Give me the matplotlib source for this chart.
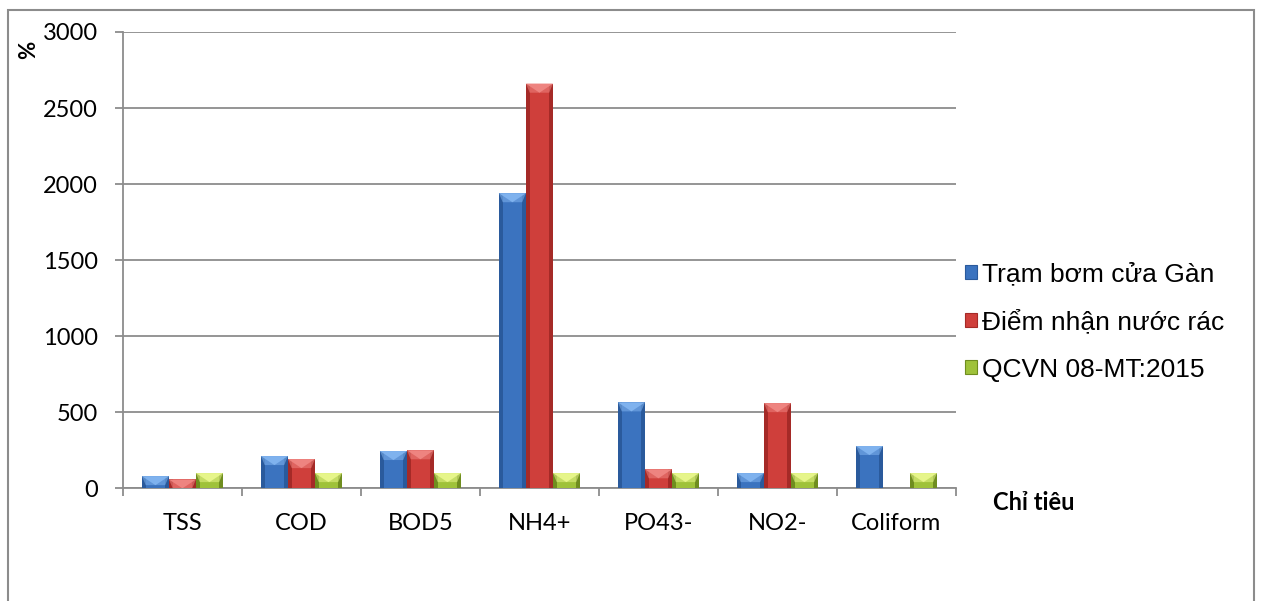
import numpy as np
import matplotlib.pyplot as plt
from matplotlib.patches import Rectangle, Polygon

# chỉ tiêu và giá trị (%)
categories = ['TSS', 'COD', 'BOD5', 'NH4+', 'PO43-', 'NO2-', 'Coliform']
tram_bom = [80, 212, 245, 1940, 565, 100, 278]
diem_nhan = [58, 192, 250, 2660, 125, 560, 0]
qcvn = [100, 100, 100, 100, 100, 100, 100]
series_names = ['Trạm bơm cửa Gàn', 'Điểm nhận nước rác', 'QCVN 08-MT:2015']

# màu: (đậm viền, thân, vát trên)
colors = [('#2a5a9c', '#3b73bf', '#7fb2ee'),
          ('#a52a27', '#cf3f3b', '#ee8480'),
          ('#6f8d1f', '#9fc23a', '#e6f58a')]

fig = plt.figure(figsize=(12.61, 6.01), dpi=100)
ax = fig.add_axes([0.0975, 0.1875, 0.6606, 0.7593])

ymax = 3000
bevel = ymax * 9 / 456.0
w = 0.227
x = np.arange(len(categories))

handles = []
for k, vals in enumerate([tram_bom, diem_nhan, qcvn]):
    dark, mid, light = colors[k]
    xs = x + (k - 1) * w
    ax.bar(xs, vals, width=w, color=dark, zorder=3, linewidth=0)
    ax.bar(xs, vals, width=w * 0.72, color=mid, zorder=4, linewidth=0)
    for xi, v in zip(xs, vals):
        if v <= 0:
            continue
        h = min(bevel, v)
        ax.add_patch(Polygon([(xi - w / 2, v), (xi + w / 2, v), (xi + w * 0.36, v - h),
                              (xi - w * 0.36, v - h)], closed=True, color=light,
                             alpha=0.55, zorder=5, linewidth=0))
        ax.add_patch(Polygon([(xi - w / 2, v), (xi + w / 2, v), (xi, v - h)],
                             closed=True, color=light, zorder=6, linewidth=0))
    handles.append(Rectangle((0, 0), 1, 1, facecolor=mid, edgecolor=dark, linewidth=0.8))

ax.set_xlim(-0.5, len(categories) - 0.5)
ax.set_ylim(0, ymax)
ax.set_yticks(np.arange(0, 3001, 500))
ax.yaxis.grid(True, color='#8c8c8c', linewidth=1.3, zorder=0)
ax.set_axisbelow(True)

ax.set_xticks(np.arange(-0.5, len(categories)), minor=False)
ax.set_xticklabels([])
ax.set_xticks(x, minor=True)
ax.set_xticklabels(categories, minor=True)
ax.tick_params(axis='x', which='major', length=6, width=1.3, color='#8c8c8c', direction='out')
ax.tick_params(axis='x', which='minor', length=0, pad=18, labelsize=17)
ax.tick_params(axis='y', length=6, width=1.3, color='#8c8c8c', pad=12, labelsize=17)
for lab in ax.get_xticklabels(minor=True) + ax.get_yticklabels():
    lab.set_family('Lato')

for s in ['top', 'right']:
    ax.spines[s].set_visible(False)
for s in ['left', 'bottom']:
    ax.spines[s].set_color('#8c8c8c')
    ax.spines[s].set_linewidth(1.3)

fig.text(29 / 1261, 1 - 50 / 601, '%', rotation=90, ha='center', va='center',
         fontsize=16, fontweight='bold', family='Lato')
fig.text(993 / 1261, 1 - 503 / 601, 'Chỉ tiêu', ha='left', va='center',
         fontsize=17, fontweight='bold', family='Lato')

fig.legend(handles, series_names, loc='center left',
           bbox_to_anchor=(965 / 1261, 1 - 322 / 601), frameon=False,
           prop={'family': 'Liberation Sans', 'size': 19},
           handlelength=0.45, handleheight=0.45, handletextpad=0.2,
           labelspacing=0.88, borderaxespad=0, borderpad=0)

# khung ngoài biểu đồ
fig.patches.append(Rectangle((8 / 1261, -0.05), (1254 - 8) / 1261, 1.05 - 10 / 601,
                             transform=fig.transFigure, fill=False,
                             edgecolor='#8c8c8c', linewidth=1.5))

fig.savefig('out.png', dpi=100)
